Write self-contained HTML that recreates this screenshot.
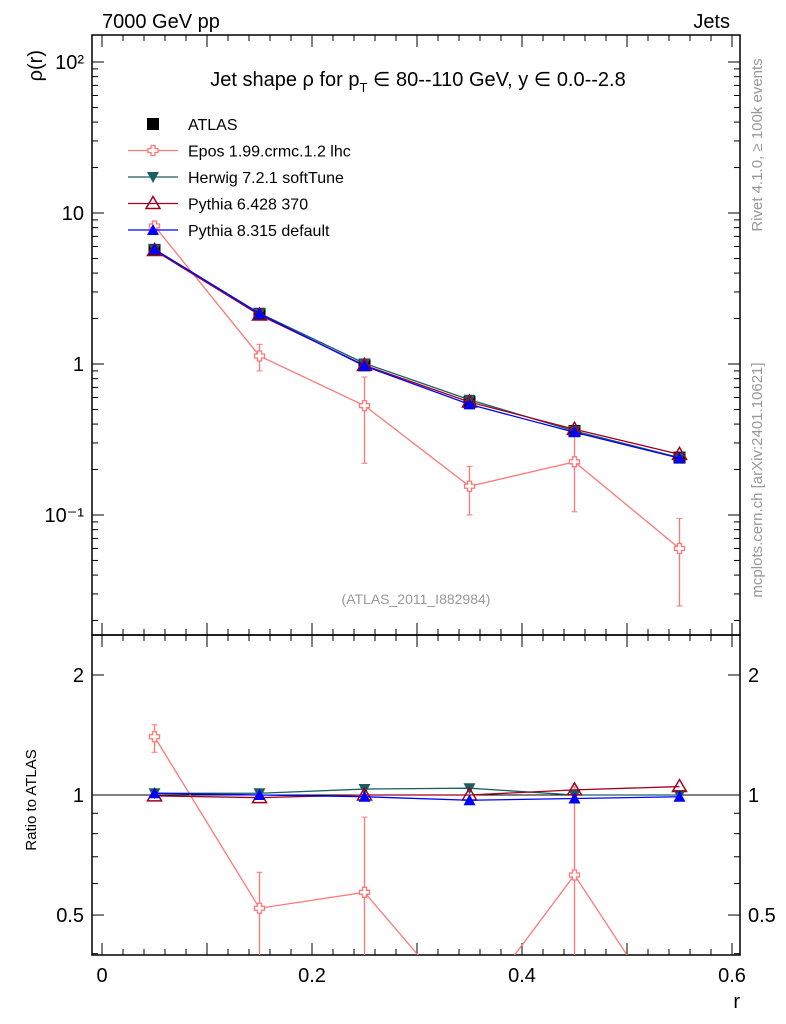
<!DOCTYPE html>
<html><head><meta charset="utf-8"><style>
html,body{margin:0;background:#fff;font-family:"Liberation Sans",sans-serif;overflow:hidden;width:786px;height:1024px}
svg{display:block}
svg text{font-family:"Liberation Sans","DejaVu Sans",sans-serif}
</style></head><body>
<svg id="c" width="786" height="1024" xmlns="http://www.w3.org/2000/svg">
<text x="102" y="28" font-size="20">7000 GeV pp</text>
<text x="730" y="28" font-size="20" text-anchor="end">Jets</text>
<text x="418" y="86" font-size="20" text-anchor="middle">Jet shape ρ  for  p<tspan font-size="13" dy="6">T</tspan><tspan dy="-6"> ∈ 80--110 GeV,  y ∈ 0.0--2.8</tspan></text>
<text x="416" y="604" font-size="14" fill="#999" text-anchor="middle">(ATLAS_2011_I882984)</text>
<text transform="translate(762,145) rotate(-90)" font-size="15" fill="#999" text-anchor="middle">Rivet 4.1.0, ≥ 100k events</text>
<text transform="translate(762,480) rotate(-90)" font-size="15" fill="#999" text-anchor="middle">mcplots.cern.ch [arXiv:2401.10621]</text>
<text transform="translate(42,50) rotate(-90)" font-size="20" text-anchor="end">ρ(r)</text>
<text transform="translate(36,800) rotate(-90)" font-size="15" text-anchor="middle">Ratio to ATLAS</text>
<text x="740" y="1008" font-size="20" text-anchor="end">r</text>
<g id="g"></g>
</svg>
<script>
const rVals=[0.05,0.15,0.25,0.35,0.45,0.55];
const atlas=[5.7,2.15,0.98,0.56,0.36,0.24];
const epos=[8.2,1.13,0.53,0.155,0.225,0.06];
const eposLo=[7.9,0.9,0.22,0.1,0.105,0.025];
const eposHi=[8.5,1.35,0.82,0.21,0.38,0.095];
const herwig=[5.75,2.17,1.01,0.58,0.36,0.24];
const pythia6=[5.65,2.11,0.98,0.56,0.37,0.252];
const pythia8=[5.75,2.15,0.97,0.54,0.353,0.238];
const rEpos=[1.4,0.52,0.57,0.28,0.63,0.25];
const rEposLo=[1.28,0.36,0.2,0.15,0.3,0.1];
const rEposHi=[1.5,0.64,0.88,0.36,1.05,0.35];
const rHerwig=[1.01,1.01,1.035,1.04,1.0,1.0];
const rPythia6=[0.995,0.985,1.0,1.0,1.03,1.05];
const rPythia8=[1.01,1.0,0.99,0.97,0.98,0.99];
const xTicks=[0,0.2,0.4,0.6];
const yTickLabels=["10⁻¹","1","10","10²"];

const NS="http://www.w3.org/2000/svg",G=document.getElementById('g');
function el(t,a,p){const e=document.createElementNS(NS,t);for(const k in a)e.setAttribute(k,a[k]);(p||G).appendChild(e);return e;}
const L=92,R=740,T1=35,B1=635,T2=635,B2=955;
const X=v=>102+v*1050;
const Y1=v=>364-Math.log10(v)*151;
const Y2=v=>795-Math.log10(v)*398.7;
let f=el('rect',{x:L,y:T1,width:R-L,height:B1-T1,fill:'none',stroke:'#000','stroke-width':1.5});

f=el('rect',{x:L,y:T2,width:R-L,height:B2-T2,fill:'none',stroke:'#000','stroke-width':1.5});

for(let i=-4;i<=30;i++){const v=i*0.02;const x=X(v);if(x<L||x>R)continue;const big=i%5==0;const len=big?12:6;
 for(const [t,b] of [[T1,B1],[T2,B2]]){el('line',{x1:x,y1:b,x2:x,y2:b-len,stroke:'#000'});el('line',{x1:x,y1:t,x2:x,y2:t+len,stroke:'#000'});}}
xTicks.forEach(v=>{const t=el('text',{x:X(v),y:982,'font-size':20,'text-anchor':'middle'});t.textContent=v===0?'0':v.toFixed(1);
 });
for(let d=-2;d<=2;d++)for(let m=1;m<=9;m++){const v=m*Math.pow(10,d);const y=Y1(v);if(y<T1||y>B1)continue;const len=m==1?12:6;
 el('line',{x1:L,y1:y,x2:L+len,y2:y,stroke:'#000'});el('line',{x1:R,y1:y,x2:R-len,y2:y,stroke:'#000'});}
[-1,0,1,2].forEach((d,i)=>{const t=el('text',{x:L-8,y:Y1(Math.pow(10,d))+7,'font-size':20,'text-anchor':'end'});t.textContent=yTickLabels[i];
 });
[0.4,0.5,0.6,0.7,0.8,0.9,1,2].forEach(v=>{const y=Y2(v);const len=(v==0.5||v==1||v==2)?12:6;
 el('line',{x1:L,y1:y,x2:L+len,y2:y,stroke:'#000'});el('line',{x1:R,y1:y,x2:R-len,y2:y,stroke:'#000'});});
[0.5,1,2].forEach(v=>{for(const [x,a] of [[L-8,'end'],[R+8,'start']]){const t=el('text',{x:x,y:Y2(v)+7,'font-size':20,'text-anchor':a});t.textContent=String(v);
 }});
el('line',{x1:L,y1:Y2(1),x2:R,y2:Y2(1),stroke:'#000'});
const defs=el('defs',{});
let cp=el('clipPath',{id:'c1'},defs);el('rect',{x:L,y:T1,width:R-L,height:B1-T1},cp);
cp=el('clipPath',{id:'c2'},defs);el('rect',{x:L,y:T2,width:R-L,height:B2-T2},cp);
function marker(g,type,x,y,col){
 if(type=='sq')el('rect',{x:x-6,y:y-6,width:12,height:12,fill:col},g);
 else if(type=='cross')el('path',{d:`M${x-2},${y-5}h4v3h3v4h-3v3h-4v-3h-3v-4h3z`,fill:'#fff',stroke:col,'stroke-width':1.3},g);
 else if(type=='tdown')el('path',{d:`M${x-6},${y-5}L${x+6},${y-5}L${x},${y+6}z`,fill:col},g);
 else if(type=='tup')el('path',{d:`M${x-6},${y+5}L${x+6},${y+5}L${x},${y-6}z`,fill:col},g);
 else if(type=='tupo')el('path',{d:`M${x-7},${y+5}L${x+7},${y+5}L${x},${y-7}z`,fill:'none',stroke:col,'stroke-width':1.5},g);
}
function series(name,vals,Y,clip,type,col,lo,hi,line){
 const g=el('g',{'clip-path':`url(#${clip})`});
 
 if(line)el('polyline',{points:rVals.map((r,i)=>X(r)+','+Y(vals[i])).join(' '),fill:'none',stroke:col,'stroke-width':1.3},g);
 if(lo)rVals.forEach((r,i)=>{el('line',{x1:X(r),y1:Y(lo[i]),x2:X(r),y2:Y(hi[i]),stroke:col,'stroke-width':1.3},g);
  el('line',{x1:X(r)-3,y1:Y(lo[i]),x2:X(r)+3,y2:Y(lo[i]),stroke:col},g);el('line',{x1:X(r)-3,y1:Y(hi[i]),x2:X(r)+3,y2:Y(hi[i]),stroke:col},g);});
 rVals.forEach((r,i)=>marker(g,type,X(r),Y(vals[i]),col));
}
series('atlas-data',atlas,Y1,'c1','sq','#000',null,null,false);
series('epos-series',epos,Y1,'c1','cross','#f77',eposLo,eposHi,true);
series('herwig-series',herwig,Y1,'c1','tdown','#1a6060',null,null,true);
series('pythia6-series',pythia6,Y1,'c1','tupo','#a00020',null,null,true);
series('pythia8-series',pythia8,Y1,'c1','tup','#00f',null,null,true);
series('epos-ratio',rEpos,Y2,'c2','cross','#f77',rEposLo,rEposHi,true);
series('herwig-ratio',rHerwig,Y2,'c2','tdown','#1a6060',null,null,true);
series('pythia6-ratio',rPythia6,Y2,'c2','tupo','#a00020',null,null,true);
series('pythia8-ratio',rPythia8,Y2,'c2','tup','#00f',null,null,true);
const leg=[['ATLAS','sq','#000',false],['Epos 1.99.crmc.1.2 lhc','cross','#f77',true],['Herwig 7.2.1 softTune','tdown','#1a6060',true],['Pythia 6.428 370','tupo','#a00020',true],['Pythia 8.315 default','tup','#00f',true]];
leg.forEach((l,i)=>{const y=124+i*26.5;const g=el('g',{});
 
 if(l[3])el('line',{x1:128,y1:y,x2:178,y2:y,stroke:l[2],'stroke-width':1.3},g);
 marker(g,l[1],153,y,l[2]);
 const t=el('text',{x:188,y:y+6,'font-size':16},g);t.textContent=l[0];});
</script>
</body></html>
